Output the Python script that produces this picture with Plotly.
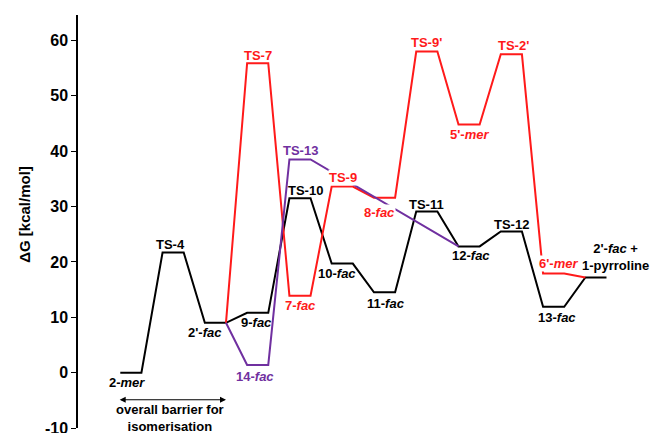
import plotly.graph_objects as go

# Free-energy profile data (kcal/mol); slot = position of each state along the reaction coordinate
black_states = ["2-mer", "TS-4", "2'-fac", "9-fac", "TS-10", "10-fac", "11-fac",
                "TS-11", "12-fac", "TS-12", "13-fac", "2'-fac + 1-pyrroline"]
black_slots = [0, 1, 2, 3, 4, 5, 6, 7, 8, 9, 10, 11]
black_energy = [0.0, 21.7, 9.0, 10.8, 31.5, 19.7, 14.5, 29.1, 22.8, 25.5, 11.9, 17.2]

red_states = ["2'-fac", "TS-7", "7-fac", "TS-9", "8-fac", "TS-9'", "5'-mer", "TS-2'",
              "6'-mer", "2'-fac + 1-pyrroline"]
red_slots = [2, 3, 4, 5, 6, 7, 8, 9, 10, 11]
red_energy = [9.0, 55.9, 13.9, 33.6, 31.6, 58.0, 44.8, 57.5, 17.9, 17.2]

purple_states = ["2'-fac", "14-fac", "TS-13", "12-fac"]
purple_slots = [2, 3, 4, 8]
purple_energy = [9.0, 1.4, 38.5, 22.8]

y_ticks = [-10, 0, 10, 20, 30, 40, 50, 60]
y_tick_labels = ["-10", "0", "10", "20", "30", "40", "50", "60"]

BLACK = "#000000"
RED = "#ff1a1a"
PURPLE = "#7030a0"
FONT = "Arial, Liberation Sans, sans-serif"


def profile(slots, energies, branch=False):
    """Each state is a flat level spanning [2*slot, 2*slot+1]; neighbours are joined
    by straight connectors.  A branch starts at the right end of its first level and
    stops at the left end of its last one (those levels belong to the main path)."""
    xs, ys = [], []
    n = len(slots)
    for k, (s, e) in enumerate(zip(slots, energies)):
        left, right = 2 * s, 2 * s + 1
        if not (branch and k == 0):
            xs.append(left); ys.append(e)
        if not (branch and k == n - 1):
            xs.append(right); ys.append(e)
    return xs, ys


fig = go.Figure()
for slots, energy, color, branch in [
    (black_slots, black_energy, BLACK, False),
    (red_slots, red_energy, RED, True),
    (purple_slots, purple_energy, PURPLE, True),
]:
    xs, ys = profile(slots, energy, branch)
    fig.add_trace(go.Scatter(x=xs, y=ys, mode="lines",
                             line=dict(color=color, width=2),
                             hoverinfo="skip", showlegend=False))

# label layout: (text, states, slots, energies, state, colour, yshift px, xshift px, white box)
labels = [
    ("2-<i>mer</i>", black_states, black_slots, black_energy, "2-mer", BLACK, -10, -4, False),
    ("TS-4", black_states, black_slots, black_energy, "TS-4", BLACK, 8, -3, False),
    ("2'-<i>fac</i>", black_states, black_slots, black_energy, "2'-fac", BLACK, -10, -10, False),
    ("9-<i>fac</i>", black_states, black_slots, black_energy, "9-fac", BLACK, -10, -1, False),
    ("TS-10", black_states, black_slots, black_energy, "TS-10", BLACK, 8, 6, False),
    ("10-<i>fac</i>", black_states, black_slots, black_energy, "10-fac", BLACK, -10, -5, False),
    ("11-<i>fac</i>", black_states, black_slots, black_energy, "11-fac", BLACK, -11, 1, False),
    ("TS-11", black_states, black_slots, black_energy, "TS-11", BLACK, 7, 0, False),
    ("12-<i>fac</i>", black_states, black_slots, black_energy, "12-fac", BLACK, -9, 2, False),
    ("TS-12", black_states, black_slots, black_energy, "TS-12", BLACK, 7, 0, False),
    ("13-<i>fac</i>", black_states, black_slots, black_energy, "13-fac", BLACK, -11, 3, False),
    ("2'-<i>fac</i> +<br>1-pyrroline", black_states, black_slots, black_energy,
     "2'-fac + 1-pyrroline", BLACK, 20, 20, False),
    ("TS-7", red_states, red_slots, red_energy, "TS-7", RED, 8, 0, False),
    ("7-<i>fac</i>", red_states, red_slots, red_energy, "7-fac", RED, -10, 1, False),
    ("TS-9", red_states, red_slots, red_energy, "TS-9", RED, 9, 1, True),
    ("8-<i>fac</i>", red_states, red_slots, red_energy, "8-fac", RED, -15, -5, True),
    ("TS-9'", red_states, red_slots, red_energy, "TS-9'", RED, 9, 0, False),
    ("5'-<i>mer</i>", red_states, red_slots, red_energy, "5'-mer", RED, -10, 0, False),
    ("TS-2'", red_states, red_slots, red_energy, "TS-2'", RED, 9, 2, False),
    ("6'-<i>mer</i>", red_states, red_slots, red_energy, "6'-mer", RED, 10, 5, True),
    ("14-<i>fac</i>", purple_states, purple_slots, purple_energy, "14-fac", PURPLE, -12, -3, False),
    ("TS-13", purple_states, purple_slots, purple_energy, "TS-13", PURPLE, 9, 1, False),
]

for text, states, slots, energy, name, color, ysh, xsh, box in labels:
    i = states.index(name)
    fig.add_annotation(
        x=2 * slots[i] + 0.5, y=energy[i], text=text, showarrow=False,
        xanchor="center", yanchor="middle", xshift=xsh, yshift=ysh,
        font=dict(family=FONT, size=13, color=color, weight="bold"),
        bgcolor="white" if box else None, borderpad=0,
    )

# double-headed arrow spanning 2-mer -> 2'-fac
fig.add_annotation(
    x=2 * black_slots[2] + 1, y=-4.9, ax=-0.1, ay=-4.9,
    xref="x", yref="y", axref="x", ayref="y",
    text="", showarrow=True, arrowhead=2, arrowside="end+start",
    arrowsize=1, arrowwidth=1.2, arrowcolor=BLACK,
)
fig.add_annotation(
    x=2.36, y=-8.2, text="overall barrier for<br>isomerisation", showarrow=False,
    xanchor="center", yanchor="middle",
    font=dict(family=FONT, size=13, color=BLACK, weight="bold"),
)

# y-axis title, rotated
fig.add_annotation(
    xref="paper", yref="y", x=-0.093, y=28.6, text="ΔG [kcal/mol]", textangle=-90,
    showarrow=False, xanchor="center", yanchor="middle",
    font=dict(family=FONT, size=15, color=BLACK, weight="bold"),
)

fig.update_layout(
    width=653, height=433,
    margin=dict(l=78, r=0, t=15, b=5, autoexpand=False),
    plot_bgcolor="white", paper_bgcolor="white",
    xaxis=dict(range=[-2, 25.2], visible=False, automargin=False),
    yaxis=dict(
        range=[-10, 64.6], tickvals=y_ticks, ticktext=y_tick_labels,
        ticks="outside", ticklen=5, automargin=False,
        tickcolor=BLACK, tickwidth=1.2, showline=True, linecolor=BLACK, linewidth=1.5,
        showgrid=False, zeroline=False, ticklabeloverflow="allow",
        tickfont=dict(family=FONT, size=16, color=BLACK, weight="bold"),
    ),
)

fig.write_html("out.html")
